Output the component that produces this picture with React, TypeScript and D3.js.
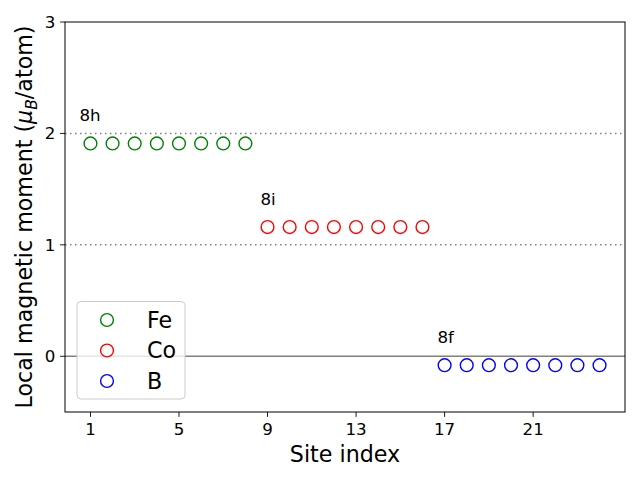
import React from "react";
import * as d3 from "d3";

const feSites = [1, 2, 3, 4, 5, 6, 7, 8];
const feValues = [1.91, 1.91, 1.91, 1.91, 1.91, 1.91, 1.91, 1.91];
const coSites = [9, 10, 11, 12, 13, 14, 15, 16];
const coValues = [1.16, 1.16, 1.16, 1.16, 1.16, 1.16, 1.16, 1.16];
const bSites = [17, 18, 19, 20, 21, 22, 23, 24];
const bValues = [-0.08, -0.08, -0.08, -0.08, -0.08, -0.08, -0.08, -0.08];
const xTicks = [1, 5, 9, 13, 17, 21];
const yTicks = [0, 1, 2, 3];
const siteLabels = [
  { text: "8h", x: 0.5, y: 2.11 },
  { text: "8i", x: 8.68, y: 1.36 },
  { text: "8f", x: 16.68, y: 0.12 },
];
const seriesNames = ["Fe", "Co", "B"];
const seriesColors = ["green", "red", "blue"];

const W = 640;
const H = 480;
const left = 65;
const right = 625;
const top = 22;
const bottom = 412;
const FONT = "DejaVu Sans, sans-serif";

export default function App() {
  const x = d3.scaleLinear().domain([-0.15, 25.15]).range([left, right]);
  const y = d3.scaleLinear().domain([-0.5, 3]).range([bottom, top]);
  const series = [
    { sites: feSites, values: feValues },
    { sites: coSites, values: coValues },
    { sites: bSites, values: bValues },
  ];
  const r = 6.4;
  return (
    <svg width={W} height={H} style={{ display: "block", position: "absolute", left: 0, top: 0 }} fontFamily={FONT}>
      <rect x={0} y={0} width={W} height={H} fill="white" />
      <line x1={left} x2={right} y1={y(2)} y2={y(2)} stroke="#808080" strokeWidth={1.5} strokeDasharray="1.5,3.5" />
      <line x1={left} x2={right} y1={y(1)} y2={y(1)} stroke="#808080" strokeWidth={1.5} strokeDasharray="1.5,3.5" />
      <line x1={left} x2={right} y1={y(0)} y2={y(0)} stroke="#808080" strokeWidth={1.5} />
      {series.map((s, i) =>
        s.sites.map((site, j) => (
          <circle key={`${i}-${j}`} cx={x(site)} cy={y(s.values[j])} r={r} fill="none" stroke={seriesColors[i]} strokeWidth={1.4} />
        ))
      )}
      {siteLabels.map((l) => (
        <text key={l.text} x={x(l.x)} y={y(l.y)} fontSize={16.67} fill="black">{l.text}</text>
      ))}
      <rect x={left} y={top} width={right - left} height={bottom - top} fill="none" stroke="black" strokeWidth={1} />
      {xTicks.map((t) => (
        <g key={`x${t}`}>
          <line x1={x(t)} x2={x(t)} y1={bottom} y2={bottom + 4.9} stroke="black" strokeWidth={0.9} />
          <text x={x(t)} y={bottom + 22.5} fontSize={16.67} textAnchor="middle" fill="black">{t}</text>
        </g>
      ))}
      {yTicks.map((t) => (
        <g key={`y${t}`}>
          <line x1={left - 4.9} x2={left} y1={y(t)} y2={y(t)} stroke="black" strokeWidth={0.9} />
          <text x={left - 9.7} y={y(t)} dy="0.36em" fontSize={16.67} textAnchor="end" fill="black">{t}</text>
        </g>
      ))}
      <text x={(left + right) / 2} y={462} fontSize={22.2} textAnchor="middle" fill="black">Site index</text>
      <text transform={`translate(32, ${(top + bottom) / 2}) rotate(-90)`} fontSize={22.2} textAnchor="middle" fill="black">
        Local magnetic moment (<tspan fontStyle="italic">μ</tspan>
        <tspan fontStyle="italic" fontSize={15.5} dy={5}>B</tspan>
        <tspan dy={-5}>/atom)</tspan>
      </text>
      <rect x={77} y={301.5} width={108} height={97.5} rx={4} fill="white" fillOpacity={0.8} stroke="#cccccc" strokeWidth={1} />
      {seriesNames.map((n, i) => (
        <g key={n}>
          <circle cx={107} cy={320 + i * 30.5} r={r} fill="none" stroke={seriesColors[i]} strokeWidth={1.4} />
          <text x={147} y={320 + i * 30.5} dy="0.36em" fontSize={22.2} fill="black">{n}</text>
        </g>
      ))}
    </svg>
  );
}
